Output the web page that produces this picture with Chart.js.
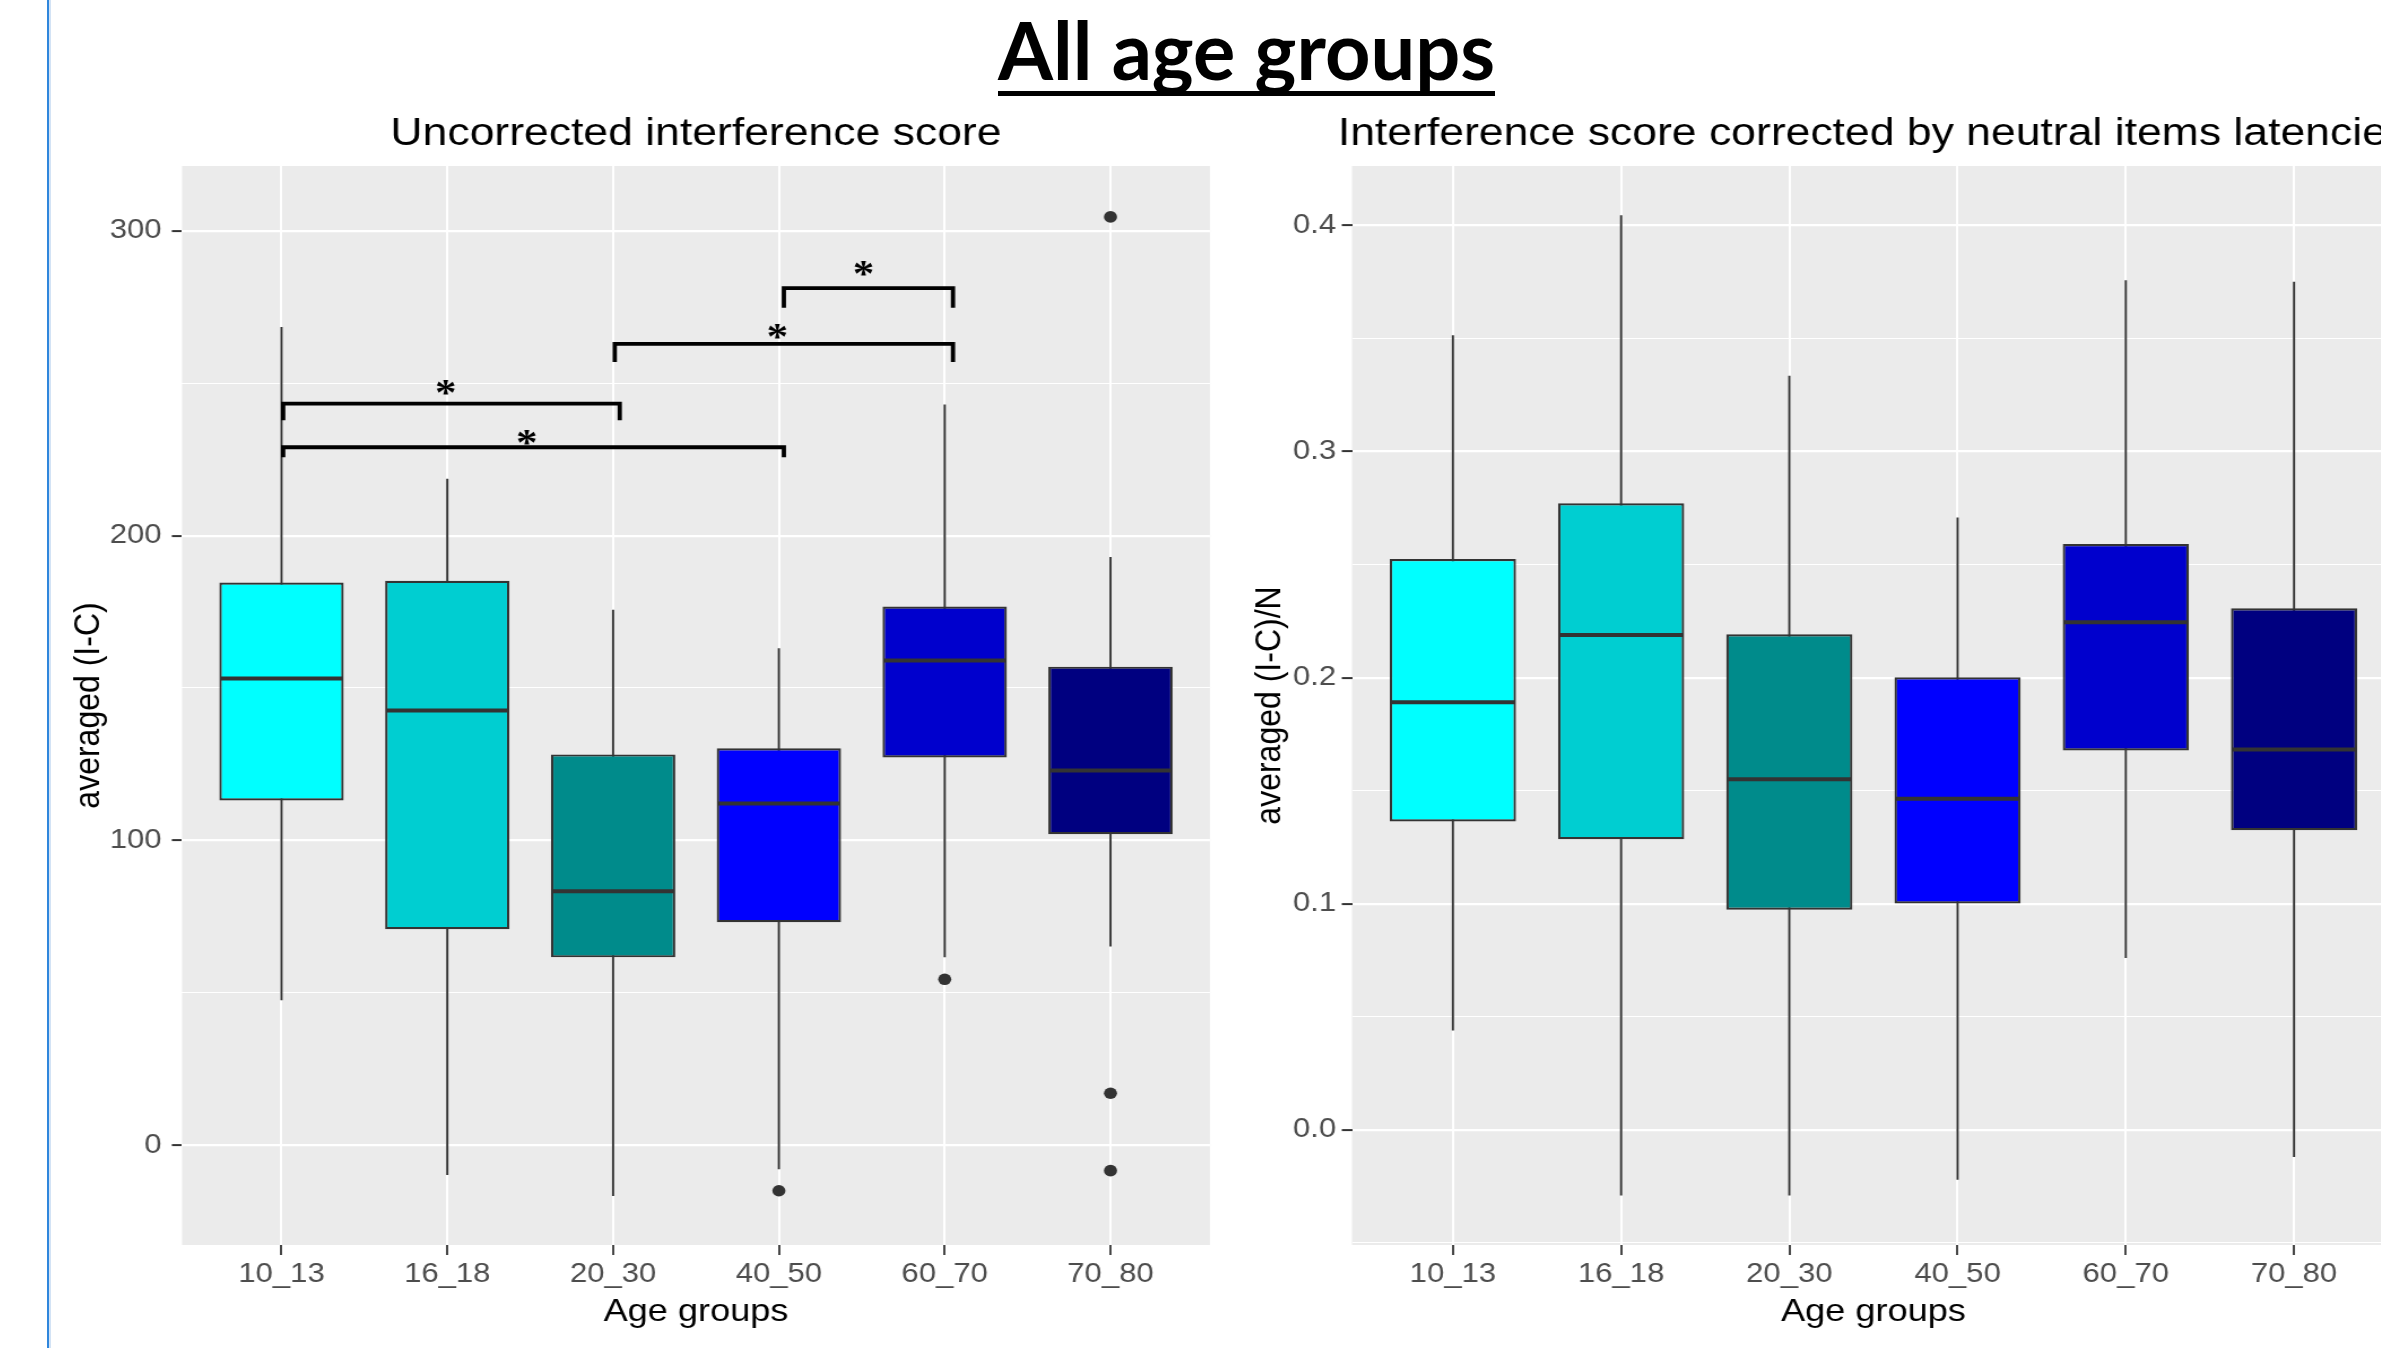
<!DOCTYPE html>
<html lang="en">
<head>
<meta charset="utf-8" />
<title>All age groups</title>
<script src="https://cdn.jsdelivr.net/npm/chart.js"></script>
<style>
  html, body { margin: 0; padding: 0; }
  body {
    width: 2381px;
    height: 1348px;
    overflow: hidden;
    background: #fff;
    position: relative;
  }
  .slide-edge {
    position: absolute;
    left: 47px;
    top: 0;
    width: 2px;
    height: 1348px;
    background: #2f86dc;
  }
  .slide-edge.soft { left: 49px; width: 2px; background: #d3e3f5; }
  .main-title {
    position: absolute;
    left: 998px;
    top: 9px;
    font-family: Lato, "Open Sans", sans-serif;
    font-weight: 700;
    font-size: 80px;
    line-height: 1;
    white-space: nowrap;
    transform-origin: 0 0;
    color: #000;
  }
  .title-rule {
    position: absolute;
    left: 998px;
    top: 91px;
    width: 497px;
    height: 5px;
    background: #000;
  }
  .panel {
    position: absolute;
    top: 90px;
    transform: scaleX(1.13);
    transform-origin: 0 0;
  }
</style>
</head>
<body>
<div class="slide-edge"></div>
<div class="slide-edge soft"></div>
<div class="main-title" id="mainTitle">All age groups</div>
<div class="title-rule"></div>
<div class="panel" style="left:55px"><canvas id="uncChart" width="1049" height="1250"></canvas></div>
<div class="panel" style="left:1235px"><canvas id="corChart" width="1040" height="1250"></canvas></div>
<script>
const groups = ['10_13', '16_18', '20_30', '40_50', '60_70', '70_80'];
const boxColors = ['#00FFFF', '#00CED1', '#008B8B', '#0000FF', '#0000CD', '#000080'];

// Uncorrected interference score, averaged (I-C)
const uncLow = [47.5, -9.8, -16.7, -7.9, 61.6, 65.2];
const uncQ1 = [113.1, 70.8, 61.6, 73.1, 127.2, 102.0];
const uncMedian = [153.1, 142.6, 83.3, 112.1, 159.0, 122.9];
const uncQ3 = [184.6, 185.2, 128.2, 130.2, 176.7, 157.0];
const uncHigh = [268.5, 218.7, 175.7, 163.0, 243.0, 193.0];
const uncOutGroup = [3, 4, 5, 5, 5];
const uncOutValue = [-15.0, 54.4, 304.6, 17.0, -8.4];
const uncTicks = [0, 100, 200, 300];

// significance brackets on the left panel (x in group units)
const sigFrom = [0.01, 0.01, 2.01, 3.03];
const sigTo = [2.04, 3.03, 4.05, 4.05];
const sigLevel = [243.3, 229.0, 262.9, 281.2];
const sigDrop = [237.9, 225.7, 257.0, 274.8];
const sigStarX = [0.99, 1.48, 2.99, 3.51];
const sigStarY = [249.2, 232.6, 267.5, 288.2];
const sigText = ['*', '*', '*', '*'];

// Corrected by neutral items latencies, averaged (I-C)/N
const corLow = [0.044, -0.029, -0.029, -0.022, 0.076, -0.012];
const corQ1 = [0.1364, 0.1286, 0.0974, 0.1001, 0.1678, 0.1325];
const corMedian = [0.1891, 0.2189, 0.1551, 0.1465, 0.2245, 0.1682];
const corQ3 = [0.2525, 0.2771, 0.2192, 0.2002, 0.2591, 0.2307];
const corHigh = [0.3515, 0.4045, 0.3335, 0.2709, 0.3758, 0.3751];
const corOutGroup = [];
const corOutValue = [];
const corTicks = [0, 0.1, 0.2, 0.3, 0.4];

const FONT = '"Liberation Sans", Arial, sans-serif';
const GRID_BG = '#EBEBEB';
const INK = '#333333';

// the slide title is Calibri in the original; squeeze the substitute to the same width
const mt = document.getElementById('mainTitle');
mt.style.transform = 'scaleX(' + (497 / mt.getBoundingClientRect().width) + ')';

// ggplot-style extras: grey panel, whiskers, medians, panel title, brackets
function boxExtras(o) {
  return {
    id: 'boxExtras',
    beforeDraw(chart) {
      const a = chart.chartArea;
      const ctx = chart.ctx;
      ctx.save();
      ctx.fillStyle = GRID_BG;
      ctx.fillRect(a.left, a.top, a.right - a.left, a.bottom - a.top);
      ctx.restore();
    },
    beforeDatasetsDraw(chart) {
      const ctx = chart.ctx;
      const x = chart.scales.x;
      const y = chart.scales.y;
      ctx.save();
      ctx.strokeStyle = INK;
      ctx.lineWidth = 1.9;
      o.low.forEach((v, i) => {
        const px = x.getPixelForValue(i);
        ctx.beginPath();
        ctx.moveTo(px, y.getPixelForValue(v));
        ctx.lineTo(px, y.getPixelForValue(o.high[i]));
        ctx.stroke();
      });
      ctx.restore();
    },
    afterDatasetsDraw(chart) {
      const ctx = chart.ctx;
      const x = chart.scales.x;
      const y = chart.scales.y;
      const a = chart.chartArea;
      const bars = chart.getDatasetMeta(0).data;
      ctx.save();
      ctx.strokeStyle = INK;
      ctx.lineWidth = 4;
      o.median.forEach((v, i) => {
        const b = bars[i];
        const half = b.width / 2 - 1;
        const py = y.getPixelForValue(v);
        ctx.beginPath();
        ctx.moveTo(b.x - half, py);
        ctx.lineTo(b.x + half, py);
        ctx.stroke();
      });

      // panel title, centred over the panel and free to run past the canvas edge
      ctx.fillStyle = '#000';
      ctx.font = o.titleSize + 'px ' + FONT;
      ctx.textAlign = 'center';
      ctx.textBaseline = 'middle';
      ctx.fillText(o.title, (a.left + a.right) / 2, 44);

      const sig = o.sig;
      if (sig) {
        ctx.strokeStyle = '#000';
        ctx.lineWidth = 3.8;
        ctx.lineJoin = 'miter';
        ctx.font = 'bold 38px "Liberation Serif", "DejaVu Serif", serif';
        ctx.textBaseline = 'alphabetic';
        sig.from.forEach((f, k) => {
          const x1 = x.getPixelForValue(f);
          const x2 = x.getPixelForValue(sig.to[k]);
          const yl = y.getPixelForValue(sig.level[k]);
          const yd = y.getPixelForValue(sig.drop[k]);
          ctx.beginPath();
          ctx.moveTo(x1, yd);
          ctx.lineTo(x1, yl);
          ctx.lineTo(x2, yl);
          ctx.lineTo(x2, yd);
          ctx.stroke();
          ctx.fillText(sig.text[k], x.getPixelForValue(sig.starX[k]), y.getPixelForValue(sig.starY[k]) + 19);
        });
      }
      ctx.restore();
    }
  };
}

function boxChart(id, o) {
  const bars = groups.map((g, i) => ({ x: i, y: [o.q1[i], o.q3[i]] }));
  const outliers = o.outGroup.map((g, i) => ({ x: g, y: o.outValue[i] }));
  const isMajor = (v) => o.major.some((t) => Math.abs(t - v) < o.step / 100);
  return new Chart(document.getElementById(id), {
    type: 'bar',
    data: {
      datasets: [
        {
          data: bars,
          backgroundColor: boxColors,
          borderColor: INK,
          borderWidth: 2.2,
          borderSkipped: false,
          barPercentage: 0.75,
          categoryPercentage: 1
        },
        {
          type: 'scatter',
          data: outliers,
          pointRadius: 5.8,
          pointBackgroundColor: INK,
          pointBorderWidth: 0
        }
      ]
    },
    options: {
      responsive: false,
      animation: false,
      layout: { padding: { left: 0, top: 76, bottom: 0, right: o.padRight } },
      plugins: {
        legend: { display: false },
        tooltip: { enabled: false },
        title: { display: false }
      },
      scales: {
        x: {
          type: 'linear',
          min: -0.6,
          max: 5.6,
          offset: false,
          ticks: {
            stepSize: 1,
            includeBounds: false,
            autoSkip: false,
            maxRotation: 0,
            color: '#4D4D4D',
            font: { family: FONT, size: 27.5 },
            padding: 3,
            callback: (v) => groups[v] ?? ''
          },
          grid: {
            color: '#FFFFFF',
            lineWidth: 2,
            offset: false,
            tickLength: 10,
            tickColor: INK,
            tickWidth: 1.8
          },
          border: { display: false },
          title: {
            display: true,
            text: 'Age groups',
            color: '#000',
            font: { family: FONT, size: 32 },
            padding: { top: 0, bottom: 9 }
          },
          afterFit: (s) => { s.height = 95; }
        },
        y: {
          min: o.min,
          max: o.max,
          ticks: {
            stepSize: o.step,
            includeBounds: false,
            maxTicksLimit: 12,
            color: '#4D4D4D',
            font: { family: FONT, size: 27.5 },
            padding: o.tickPad,
            callback: (v) => (isMajor(v) ? o.fmt(v) : '')
          },
          grid: {
            color: '#FFFFFF',
            lineWidth: (c) => (c.tick && isMajor(c.tick.value) ? 2.2 : 1.1),
            tickLength: 9,
            tickWidth: 2,
            tickColor: (c) => (c.tick && isMajor(c.tick.value) ? INK : 'rgba(0,0,0,0)')
          },
          border: { display: false },
          title: {
            display: true,
            text: o.yTitle,
            color: '#000',
            font: { family: FONT, size: 32 },
            padding: { top: o.yTitlePad, bottom: 0 }
          },
          afterFit: (s) => { s.width = o.yWidth; }
        }
      }
    },
    plugins: [boxExtras(o)]
  });
}

boxChart('uncChart', {
  title: 'Uncorrected interference score',
  titleSize: 39.4,
  yTitle: 'averaged (I-C)',
  low: uncLow, q1: uncQ1, median: uncMedian, q3: uncQ3, high: uncHigh,
  outGroup: uncOutGroup, outValue: uncOutValue,
  major: uncTicks, step: 50, min: -32.8, max: 321.3,
  fmt: (v) => String(Math.round(v)),
  yWidth: 112.4, yTitlePad: 11.3, tickPad: 9, padRight: 26.9,
  sig: { from: sigFrom, to: sigTo, level: sigLevel, drop: sigDrop, starX: sigStarX, starY: sigStarY, text: sigText }
});

boxChart('corChart', {
  title: 'Interference score corrected by neutral items latencies',
  titleSize: 39.4,
  yTitle: 'averaged (I-C)/N',
  low: corLow, q1: corQ1, median: corMedian, q3: corQ3, high: corHigh,
  outGroup: corOutGroup, outValue: corOutValue,
  major: corTicks, step: 0.05, min: -0.0509, max: 0.4263,
  fmt: (v) => v.toFixed(1),
  yWidth: 103.5, yTitlePad: 11.8, tickPad: 5, padRight: 13.5,
  sig: null
});
</script>
</body>
</html>
